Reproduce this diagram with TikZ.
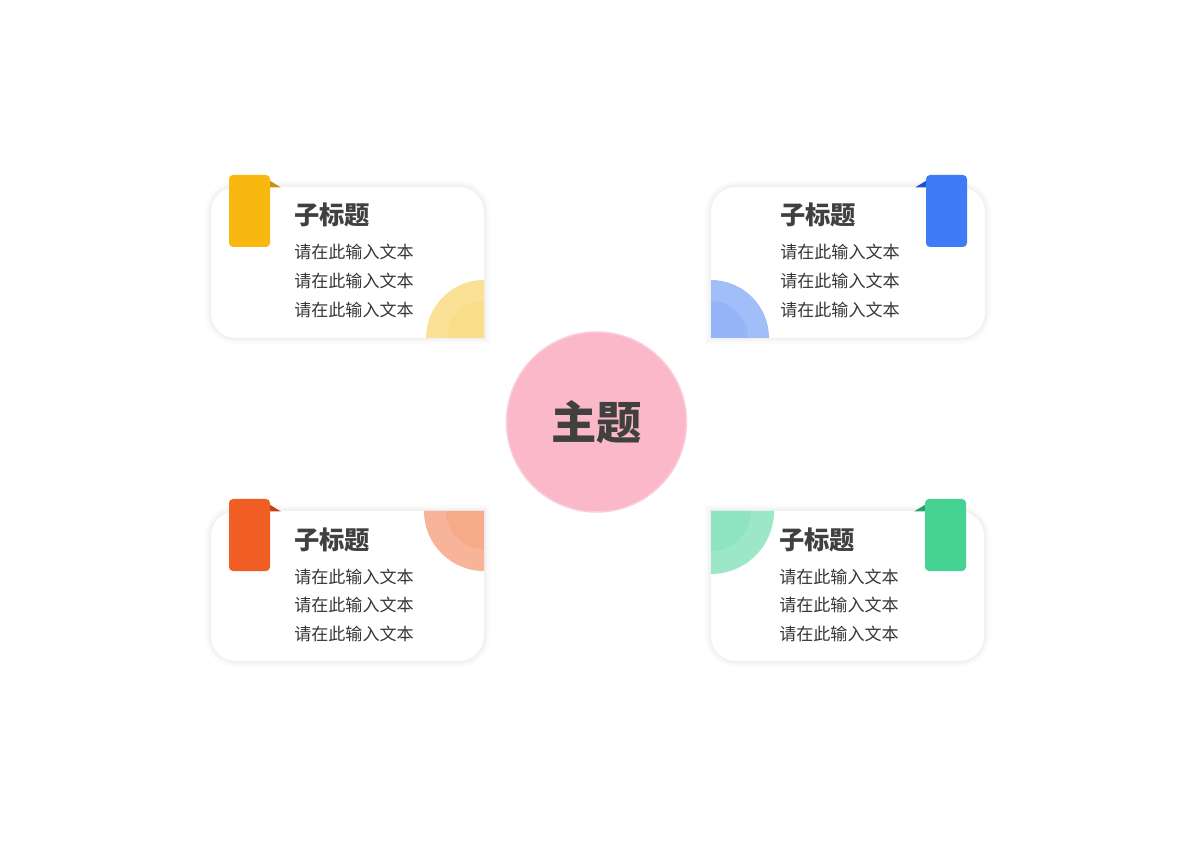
\documentclass[tikz,border=0pt]{standalone}
\usepackage{fontspec}
\newfontfamily\cjk{Noto Sans CJK SC}

\newlength{\du}
\setlength{\du}{0.75pt}

\definecolor{inkcolor}{RGB}{64,64,64}
\definecolor{topiccolor}{RGB}{251,184,200}
\definecolor{topicline}{RGB}{249,206,220}
\definecolor{yellowtab}{RGB}{248,184,16}
\definecolor{yellowfold}{RGB}{200,146,10}
\definecolor{yellowdisk}{RGB}{249,206,80}
\definecolor{bluetab}{RGB}{62,123,245}
\definecolor{bluefold}{RGB}{26,84,214}
\definecolor{bluedisk}{RGB}{100,148,245}
\definecolor{orangetab}{RGB}{241,94,36}
\definecolor{orangefold}{RGB}{190,66,20}
\definecolor{orangedisk}{RGB}{242,130,84}
\definecolor{greentab}{RGB}{69,210,147}
\definecolor{greenfold}{RGB}{40,160,105}
\definecolor{greendisk}{RGB}{90,216,164}

\tikzset{
  card/.style={fill=white, rounded corners=25\du,
    preaction={draw=black, draw opacity=0.015, line width=12\du, line cap=rect},
    preaction={draw=black, draw opacity=0.02, line width=7\du, line cap=rect},
    preaction={draw=black, draw opacity=0.025, line width=3\du, line cap=rect}},
  tabbox/.style={rounded corners=4\du},
  disk/.style={opacity=0.6},
  innerdisk/.style={opacity=0.2},
  title/.style={anchor=west, inner sep=0pt, text=inkcolor, font=\cjk\bfseries\fontsize{19pt}{22pt}\selectfont},
  line/.style={anchor=west, inner sep=0pt, text=inkcolor!85!black, font=\cjk\fontsize{12.8pt}{15pt}\selectfont},
}

\begin{document}
\begin{tikzpicture}[x=\du, y=-\du]
\useasboundingbox (0,0) rectangle (1200,848);
\fill[white] (0,0) rectangle (1200,848);

% top left card
\path[card] (484,338)--(211,338)--(211,187)--(484,187)--(484,338);
\begin{scope}
\clip (211,187) rectangle (484,338);
\fill[yellowdisk, disk] (484,338)--(426,338) arc[start angle=180, end angle=270, radius=58]--cycle;
\fill[yellowdisk, innerdisk] (484,338)--(447,338) arc[start angle=180, end angle=270, radius=37]--cycle;
\end{scope}
\fill[yellowfold] (262,176)--(281,187.5)--(262,187.5)--cycle;
\fill[yellowtab, tabbox] (229,175) rectangle (270,247);
\node[title] (tltitle) at (294,215) {子标题};
\node[line] (tlone) at (294,252) {请在此输入文本};
\node[line] (tltwo) at (294,281) {请在此输入文本};
\node[line] (tlthree) at (294,310) {请在此输入文本};

% top right card
\path[card] (711,338)--(711,187)--(985,187)--(985,338)--(711,338);
\begin{scope}
\clip (711,187) rectangle (985,338);
\fill[bluedisk, disk] (711,338)--(711,280) arc[start angle=270, end angle=360, radius=58]--cycle;
\fill[bluedisk, innerdisk] (711,338)--(711,301) arc[start angle=270, end angle=360, radius=37]--cycle;
\end{scope}
\fill[bluefold] (934,176)--(915,187.5)--(934,187.5)--cycle;
\fill[bluetab, tabbox] (926,175) rectangle (967,247);
\node[title] (trtitle) at (780,215) {子标题};
\node[line] (trone) at (780,252) {请在此输入文本};
\node[line] (trtwo) at (780,281) {请在此输入文本};
\node[line] (trthree) at (780,310) {请在此输入文本};

% bottom left card
\path[card] (484,511)--(484,661)--(211,661)--(211,511)--(484,511);
\begin{scope}
\clip (211,511) rectangle (484,661);
\fill[orangedisk, disk] (484,511)--(484,571) arc[start angle=90, end angle=180, radius=60]--cycle;
\fill[orangedisk, innerdisk] (484,511)--(484,549) arc[start angle=90, end angle=180, radius=38]--cycle;
\end{scope}
\fill[orangefold] (262,500)--(281,511.5)--(262,511.5)--cycle;
\fill[orangetab, tabbox] (229,499) rectangle (270,571);
\node[title] (bltitle) at (294,540) {子标题};
\node[line] (blone) at (294,577) {请在此输入文本};
\node[line] (bltwo) at (294,605) {请在此输入文本};
\node[line] (blthree) at (294,634) {请在此输入文本};

% bottom right card
\path[card] (711,511)--(984,511)--(984,661)--(711,661)--(711,511);
\begin{scope}
\clip (711,511) rectangle (984,661);
\fill[greendisk, disk] (711,511)--(774,511) arc[start angle=0, end angle=90, radius=63]--cycle;
\fill[greendisk, innerdisk] (711,511)--(751,511) arc[start angle=0, end angle=90, radius=40]--cycle;
\end{scope}
\fill[greenfold] (933,500)--(914,511.5)--(933,511.5)--cycle;
\fill[greentab, tabbox] (925,499) rectangle (966,571);
\node[title] (brtitle) at (779,540) {子标题};
\node[line] (brone) at (779,577) {请在此输入文本};
\node[line] (brtwo) at (779,605) {请在此输入文本};
\node[line] (brthree) at (779,634) {请在此输入文本};

% topic
\node[circle, fill=topiccolor, draw=topicline, line width=1.5\du, minimum size=180\du, inner sep=0pt,
  text=inkcolor, font=\cjk\bfseries\fontsize{34pt}{40pt}\selectfont] (topic) at (596.5,422) {主题};
\end{tikzpicture}
\end{document}
